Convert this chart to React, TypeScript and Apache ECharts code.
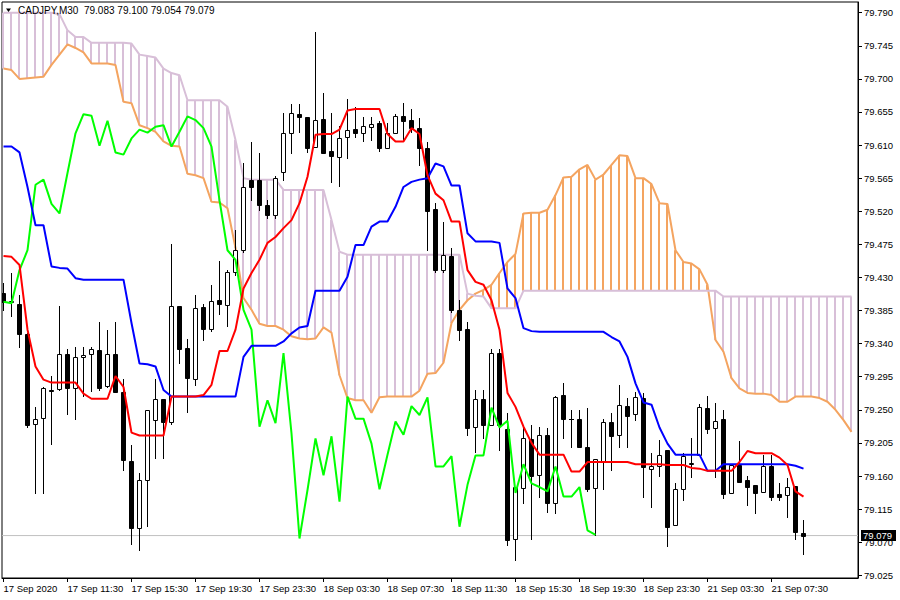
import React, { useEffect, useRef } from 'react';
import * as echarts from 'echarts';

const symbol = 'CADJPY,M30';
const timeLabels = ['17 Sep 2020', '17 Sep 11:30', '17 Sep 15:30', '17 Sep 19:30', '17 Sep 23:30', '18 Sep 03:30', '18 Sep 07:30', '18 Sep 11:30', '18 Sep 15:30', '18 Sep 19:30', '18 Sep 23:30', '21 Sep 03:30', '21 Sep 07:30'];
const labelBars = [0, 8, 16, 24, 32, 40, 48, 56, 64, 72, 80, 88, 96];
const priceTicks = [79.025, 79.07, 79.115, 79.16, 79.205, 79.25, 79.295, 79.34, 79.385, 79.43, 79.475, 79.52, 79.565, 79.61, 79.655, 79.7, 79.745, 79.79];

const opens = [79.409,79.397,79.394,79.353,79.231,79.239,79.277,79.278,79.326,79.280,
79.322,79.326,79.331,79.282,79.326,79.274,79.180,79.089,79.155,79.236,
79.265,79.233,79.391,79.334,79.292,79.390,79.360,79.399,79.393,79.437,
79.467,79.563,79.563,79.529,79.515,79.573,79.626,79.652,79.648,79.607,
79.645,79.602,79.594,79.621,79.632,79.626,79.635,79.640,79.606,79.626,
79.650,79.644,79.633,79.606,79.523,79.440,79.459,79.386,79.360,79.227,
79.265,79.229,79.327,79.224,79.074,79.144,79.210,79.161,79.216,79.123,
79.270,79.238,79.238,79.200,79.144,79.180,79.234,79.216,79.255,79.244,
79.266,79.170,79.174,79.195,79.093,79.142,79.176,79.189,79.252,79.225,
79.238,79.137,79.175,79.155,79.148,79.138,79.174,79.136,79.134,79.146,
79.083];
const highs = [79.423,79.436,79.406,79.354,79.254,79.281,79.296,79.391,79.333,79.335,
79.335,79.335,79.369,79.359,79.369,79.292,79.202,79.164,79.250,79.292,
79.265,79.475,79.391,79.346,79.406,79.394,79.420,79.452,79.440,79.495,
79.586,79.614,79.599,79.535,79.568,79.654,79.666,79.666,79.648,79.764,
79.681,79.654,79.636,79.673,79.662,79.648,79.648,79.643,79.640,79.652,
79.667,79.659,79.647,79.614,79.531,79.505,79.470,79.399,79.369,79.277,
79.277,79.333,79.333,79.246,79.145,79.227,79.229,79.227,79.225,79.269,
79.286,79.250,79.250,79.253,79.183,79.238,79.246,79.284,79.266,79.274,
79.273,79.191,79.209,79.195,79.151,79.191,79.212,79.258,79.269,79.259,
79.250,79.175,79.208,79.160,79.148,79.189,79.189,79.151,79.157,79.146,
79.100];
const lows = [79.386,79.378,79.335,79.227,79.137,79.137,79.204,79.277,79.244,79.238,
79.269,79.276,79.277,79.281,79.274,79.168,79.068,79.059,79.092,79.185,
79.185,79.231,79.314,79.247,79.284,79.345,79.357,79.380,79.364,79.433,
79.465,79.535,79.522,79.511,79.511,79.563,79.599,79.628,79.601,79.607,
79.599,79.560,79.554,79.592,79.621,79.616,79.617,79.602,79.606,79.626,
79.617,79.628,79.583,79.467,79.437,79.437,79.383,79.345,79.216,79.193,
79.212,79.229,79.195,79.066,79.046,79.123,79.074,79.131,79.111,79.110,
79.212,79.200,79.200,79.140,79.080,79.142,79.168,79.200,79.200,79.236,
79.131,79.118,79.160,79.065,79.093,79.127,79.159,79.189,79.218,79.159,
79.130,79.137,79.152,79.121,79.110,79.138,79.127,79.127,79.104,79.074,
79.054];
const closes = [79.397,79.398,79.353,79.229,79.238,79.280,79.275,79.326,79.280,79.322,
79.325,79.333,79.280,79.326,79.274,79.182,79.089,79.155,79.250,79.265,
79.233,79.391,79.333,79.293,79.388,79.360,79.398,79.394,79.437,79.467,
79.553,79.553,79.529,79.515,79.565,79.626,79.654,79.648,79.606,79.644,
79.599,79.595,79.620,79.631,79.626,79.636,79.639,79.606,79.626,79.650,
79.643,79.633,79.606,79.520,79.440,79.461,79.386,79.359,79.225,79.265,
79.229,79.327,79.229,79.073,79.145,79.212,79.160,79.216,79.123,79.267,
79.238,79.237,79.200,79.142,79.183,79.234,79.214,79.257,79.242,79.267,
79.172,79.174,79.189,79.091,79.142,79.187,79.178,79.254,79.224,79.235,
79.136,79.175,79.152,79.145,79.137,79.174,79.131,79.131,79.145,79.084,
79.079];

const tenkan = [79.459,79.458,79.447,79.359,79.309,79.291,79.287,79.287,79.287,79.287,
79.272,79.265,79.265,79.265,79.296,79.281,79.219,79.215,79.215,79.215,
79.215,79.268,79.268,79.268,79.268,79.270,79.284,79.330,79.330,79.359,
79.415,79.436,79.454,79.477,79.485,79.497,79.508,79.531,79.567,79.624,
79.625,79.625,79.631,79.657,79.659,79.659,79.659,79.659,79.625,79.615,
79.615,79.633,79.625,79.569,79.544,79.535,79.506,79.506,79.440,79.424,
79.420,79.399,79.359,79.273,79.254,79.227,79.205,79.189,79.189,79.189,
79.189,79.166,79.166,79.179,79.179,79.179,79.179,79.179,79.179,79.176,
79.176,79.176,79.176,79.175,79.175,79.175,79.171,79.170,79.167,79.167,
79.167,79.167,79.179,79.194,79.191,79.191,79.191,79.185,79.175,79.139,
79.132];
const kijun = [79.608,79.608,79.600,79.553,79.501,79.501,79.445,79.443,79.442,79.429,
79.427,79.427,79.427,79.427,79.427,79.427,79.368,79.313,79.312,79.309,
79.277,79.268,79.268,79.268,79.268,79.268,79.268,79.268,79.268,79.268,
79.322,79.337,79.337,79.337,79.337,79.343,79.354,79.362,79.364,79.412,
79.412,79.412,79.412,79.431,79.474,79.474,79.499,79.506,79.506,79.526,
79.553,79.560,79.563,79.565,79.585,79.581,79.555,79.555,79.490,79.479,
79.479,79.479,79.477,79.415,79.402,79.361,79.357,79.356,79.356,79.356,
79.356,79.356,79.356,79.356,79.356,79.356,79.349,79.343,79.322,79.286,
79.260,79.257,79.226,79.204,79.189,79.189,79.189,79.189,79.167,79.167,
79.176,79.176,79.176,79.176,79.176,79.176,79.176,79.176,79.176,79.174,
79.170];
const chikou = [79.397,79.395,79.440,79.467,79.556,79.563,79.530,79.517,79.572,79.626,
79.652,79.650,79.609,79.643,79.600,79.597,79.619,79.631,79.627,79.635,
79.637,79.608,79.628,79.649,79.644,79.633,79.608,79.535,79.467,79.454,
79.386,79.359,79.227,79.263,79.232,79.327,79.218,79.075,79.141,79.211,
79.161,79.214,79.125,79.268,79.238,79.238,79.204,79.142,79.189,79.234,
79.216,79.255,79.243,79.267,79.173,79.173,79.187,79.091,79.148,79.188,
79.188,79.253,79.226,79.235,79.137,79.176,79.150,79.145,79.139,79.173,
79.132,79.132,79.145,79.086,79.080];
const spanA = [79.714,79.712,79.700,79.701,79.702,79.703,79.719,79.733,79.747,79.742,
79.736,79.721,79.721,79.721,79.719,79.669,79.667,79.637,79.633,79.628,
79.615,79.609,79.608,79.571,79.569,79.565,79.533,79.532,79.524,79.470,
79.402,79.386,79.367,79.364,79.364,79.359,79.350,79.347,79.346,79.347,
79.362,79.355,79.297,79.266,79.263,79.263,79.246,79.267,79.268,79.268,
79.268,79.268,79.276,79.299,79.300,79.314,79.368,79.386,79.399,79.408,
79.413,79.420,79.436,79.451,79.462,79.517,79.518,79.518,79.522,79.542,
79.566,79.567,79.577,79.583,79.563,79.570,79.583,79.596,79.595,79.565,
79.565,79.557,79.531,79.530,79.467,79.451,79.449,79.441,79.420,79.345,
79.329,79.293,79.279,79.273,79.272,79.272,79.270,79.261,79.261,79.268,
79.268,79.268,79.266,79.261,79.250,79.236,79.220];
const spanB = [79.790,79.790,79.790,79.790,79.790,79.790,79.790,79.788,79.766,79.757,
79.757,79.749,79.749,79.749,79.749,79.749,79.748,79.733,79.731,79.729,
79.714,79.708,79.705,79.671,79.671,79.671,79.671,79.671,79.662,79.617,
79.565,79.563,79.563,79.563,79.563,79.549,79.549,79.549,79.549,79.549,
79.549,79.508,79.465,79.461,79.461,79.461,79.461,79.461,79.461,79.461,
79.461,79.461,79.461,79.461,79.461,79.461,79.461,79.461,79.408,79.405,
79.404,79.388,79.388,79.388,79.388,79.412,79.412,79.412,79.412,79.412,
79.412,79.412,79.412,79.412,79.412,79.412,79.412,79.412,79.412,79.412,
79.412,79.412,79.412,79.412,79.412,79.412,79.412,79.412,79.412,79.412,
79.404,79.404,79.404,79.404,79.404,79.404,79.404,79.404,79.404,79.404,
79.404,79.404,79.404,79.404,79.404,79.404,79.404];

const FONT = '"Liberation Sans", Arial, sans-serif';
const X_MIN = -0.1875;
const X_MAX = 106.8125;
const Y_MIN = 79.0213;
const Y_MAX = 79.80455;

const SANDY = '#F4A460';
const THISTLE = '#D8BFD8';

export default function App() {
  const ref = useRef<HTMLDivElement>(null);
  useEffect(() => {
    const chart = echarts.init(ref.current!, null, { renderer: 'svg' });
    const candleData = opens.map((o, i) => [i, o, highs[i], lows[i], closes[i]]);
    const cloudData = spanA.map((a, i) => [i, a, spanB[i]]);
    const toXY = (arr: number[]) => arr.map((v, i) => [i, v]);
    const last = closes[closes.length - 1];
    const lineSeries = (name: string, data: number[], color: string, z: number) => ({
      name, type: 'line', data: toXY(data), showSymbol: false, symbol: 'none', silent: true, z,
      lineStyle: { color, width: 2 }, clip: true,
    });
    const option: any = {
      animation: false,
      backgroundColor: '#ffffff',
      textStyle: { fontFamily: FONT },
      grid: { left: 2, top: 2, width: 856, height: 576, show: true, borderColor: '#000', borderWidth: 1, containLabel: false },
      xAxis: {
        type: 'value', min: X_MIN, max: X_MAX,
        axisLine: { show: true, onZero: false, lineStyle: { color: '#000', width: 1 } },
        axisTick: { show: true, length: 4, customValues: labelBars, lineStyle: { color: '#000' } },
        axisLabel: {
          customValues: labelBars, align: 'left', margin: 5, color: '#000', fontSize: 9.5, fontFamily: FONT,
          formatter: (v: number) => { const k = labelBars.indexOf(Math.round(v)); return k >= 0 ? timeLabels[k] : ''; },
        },
        splitLine: { show: false },
      },
      yAxis: {
        type: 'value', position: 'right', min: Y_MIN, max: Y_MAX,
        axisLine: { show: true, onZero: false, lineStyle: { color: '#000', width: 1 } },
        axisTick: { show: true, length: 4, customValues: priceTicks, lineStyle: { color: '#000' } },
        axisLabel: {
          customValues: priceTicks, margin: 6, color: '#000', fontSize: 9.5, fontFamily: FONT, align: 'left',
          formatter: (v: number) => v.toFixed(3),
        },
        splitLine: { show: false },
      },
      series: [
        {
          name: 'bid', type: 'line', data: [[X_MIN, last], [X_MAX, last]], showSymbol: false, symbol: 'none', silent: true, z: 1,
          lineStyle: { color: '#C0C0C0', width: 1 },
        },
        {
          name: 'cloud', type: 'custom', data: cloudData, silent: true, z: 2, clip: true,
          encode: { x: 0, y: [1, 2] },
          renderItem: (_p: any, api: any) => {
            const i = api.value(0), a = api.value(1), b = api.value(2);
            const p1 = api.coord([i, a]);
            const p2 = api.coord([i, b]);
            const x = Math.floor(p1[0]);
            return {
              type: 'line',
              shape: { x1: x, y1: p1[1], x2: x, y2: p2[1] },
              style: { stroke: a >= b ? SANDY : THISTLE, lineWidth: 2 },
            };
          },
        },
        lineSeries('Senkou Span A', spanA, SANDY, 3),
        lineSeries('Senkou Span B', spanB, THISTLE, 3),
        {
          name: 'candles', type: 'custom', data: candleData, silent: true, z: 4, clip: true,
          encode: { x: 0, y: [1, 2, 3, 4] },
          renderItem: (_p: any, api: any) => {
            const i = api.value(0), o = api.value(1), h = api.value(2), l = api.value(3), c = api.value(4);
            const po = api.coord([i, o]);
            const cx = Math.round(po[0] - 0.5) + 0.5;
            const yo = po[1];
            const yh = api.coord([i, h])[1];
            const yl = api.coord([i, l])[1];
            const yc = api.coord([i, c])[1];
            const top = Math.round(Math.min(yo, yc)) + 0.5;
            const bot = Math.round(Math.max(yo, yc)) + 0.5;
            const bull = c >= o;
            const children: any[] = [
              { type: 'line', shape: { x1: cx, y1: Math.round(yh), x2: cx, y2: Math.round(yl) + 1 }, style: { stroke: '#000', lineWidth: 1 } },
            ];
            if (bot - top < 1) {
              children.push({ type: 'line', shape: { x1: cx - 2.5, y1: top, x2: cx + 2.5, y2: top }, style: { stroke: '#000', lineWidth: 1 } });
            } else {
              children.push({ type: 'rect', shape: { x: cx - 2, y: top, width: 4, height: bot - top }, style: { fill: bull ? '#fff' : '#000', stroke: '#000', lineWidth: 1 } });
            }
            return { type: 'group', children };
          },
        },
        lineSeries('Chikou Span', chikou, '#00FF00', 5),
        lineSeries('Kijun-sen', kijun, '#0000FF', 5),
        lineSeries('Tenkan-sen', tenkan, '#FF0000', 5),
      ],
    };
    chart.setOption(option);
    const yPix = chart.convertToPixel({ yAxisIndex: 0 }, last) as number;
    const n = closes.length - 1;
    const header = `${symbol}\u00a0\u00a0${opens[n].toFixed(3)} ${highs[n].toFixed(3)} ${lows[n].toFixed(3)} ${closes[n].toFixed(3)}`;
    chart.setOption({
      graphic: [
        { type: 'polygon', shape: { points: [[6, 8.5], [11, 8.5], [8.5, 12]] }, style: { fill: '#000' }, z: 100 },
        { type: 'text', x: 18, y: 10, style: { text: header, fill: '#000', font: `10px ${FONT}`, verticalAlign: 'middle', align: 'left' }, z: 100 },
        { type: 'rect', shape: { x: 861, y: Math.round(yPix) - 6, width: 35, height: 11 }, style: { fill: '#000' }, z: 100 },
        { type: 'text', x: 863, y: yPix, style: { text: last.toFixed(3), fill: '#fff', font: `9.5px ${FONT}`, verticalAlign: 'middle', align: 'left' }, z: 101 },
      ],
    });
    return () => chart.dispose();
  }, []);
  return <div ref={ref} style={{ position: 'fixed', left: 0, top: 0, width: 900, height: 600 }} />;
}
